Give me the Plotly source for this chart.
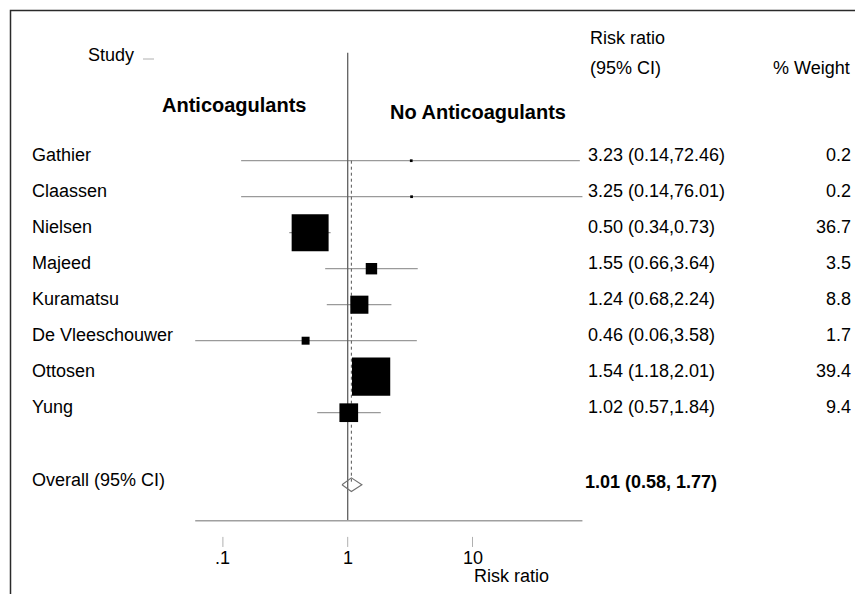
import math
import plotly.graph_objects as go

# ---------------- data ----------------
studies = ["Gathier", "Claassen", "Nielsen", "Majeed", "Kuramatsu",
           "De Vleeschouwer", "Ottosen", "Yung"]
rr = [3.23, 3.25, 0.50, 1.55, 1.24, 0.46, 1.54, 1.02]
ci_low = [0.14, 0.14, 0.34, 0.66, 0.68, 0.06, 1.18, 0.57]
ci_high = [72.46, 76.01, 0.73, 3.64, 2.24, 3.58, 2.01, 1.84]
weight = [0.2, 0.2, 36.7, 3.5, 8.8, 1.7, 39.4, 9.4]

overall_label = "Overall (95% CI)"
overall_rr = 1.01
overall_low = 0.58
overall_high = 1.77
# pooled diamond as it is drawn in the picture (low, centre, high)
diamond_drawn = [0.90, 1.07, 1.30]

tick_vals = [0.1, 1, 10]
tick_text = [".1", "1", "10"]
axis_title = "Risk ratio"
left_side_label = "Anticoagulants"
right_side_label = "No Anticoagulants"

# ---------------- layout helpers ----------------
PAGE_W, PAGE_H = 863, 594
OFF = 8                          # page body margin of the html page
W, H = PAGE_W - OFF, PAGE_H - OFF
X0PX, DECADE = 347.7, 124.8      # page pixel of RR=1, pixels per decade
Y0PX, ROWPX = 160.7, 36.0        # page pixel of first row, pixels per row
FONT = "Liberation Sans, Arial, Helvetica, sans-serif"

rows = list(range(len(studies)))
overall_row = len(studies) + 1
axis_row = overall_row + 1
top_row = -3

def px(p):   # paper x from page pixel
    return (p - OFF) / W

def py(p):   # paper y from page pixel
    return 1 - (p - OFF) / H

fig = go.Figure()

# CI lines
cx, cy = [], []
for r, lo, hi in zip(rows, ci_low, ci_high):
    cx += [lo, hi, None]
    cy += [r, r, None]
fig.add_trace(go.Scatter(x=cx, y=cy, mode="lines",
                         line=dict(color="#9a9a9a", width=1.3),
                         hoverinfo="skip", showlegend=False))

# line of no effect
fig.add_trace(go.Scatter(x=[1, 1], y=[top_row, axis_row], mode="lines",
                         line=dict(color="#606060", width=1.3),
                         hoverinfo="skip", showlegend=False))

# dashed overall line
fig.add_trace(go.Scatter(x=[diamond_drawn[1], diamond_drawn[1]],
                         y=[rows[0], overall_row], mode="lines",
                         line=dict(color="#555555", width=1, dash="3px,3px"),
                         hoverinfo="skip", showlegend=False))

# boxes
fig.add_trace(go.Scatter(x=rr, y=rows, mode="markers",
                         marker=dict(symbol="square", color="black", opacity=1,
                                     size=[6.1 * math.sqrt(w) for w in weight],
                                     line=dict(width=0)),
                         hoverinfo="skip", showlegend=False))

# diamond
dh = 0.19
fig.add_trace(go.Scatter(
    x=[diamond_drawn[0], diamond_drawn[1], diamond_drawn[2], diamond_drawn[1], diamond_drawn[0]],
    y=[overall_row, overall_row - dh, overall_row, overall_row + dh, overall_row],
    mode="lines", line=dict(color="#707070", width=1.1),
    hoverinfo="skip", showlegend=False))

# x axis line (spans the CI range)
amin, amax = min(ci_low), max(ci_high)
fig.add_trace(go.Scatter(x=[amin, amax], y=[axis_row, axis_row], mode="lines",
                         line=dict(color="#a0a0a0", width=1.4),
                         hoverinfo="skip", showlegend=False))

# tick marks
tx, ty = [], []
for v in tick_vals:
    tx += [v, v, None]
    ty += [axis_row + 0.45, axis_row + 0.73, None]
fig.add_trace(go.Scatter(x=tx, y=ty, mode="lines",
                         line=dict(color="#b0b0b0", width=1),
                         hoverinfo="skip", showlegend=False))

ann = []
def txt(text, x, y, xanchor="left", size=18, bold=False, xref="paper", yref="paper", yshift=0):
    if bold:
        text = "<b>" + text + "</b>"
    ann.append(dict(text=text, x=x, y=y, xref=xref, yref=yref, xanchor=xanchor,
                    yanchor="middle", showarrow=False, yshift=yshift,
                    font=dict(family=FONT, size=size, color="black")))

# row texts
for r, name, e, lo, hi, w in zip(rows, studies, rr, ci_low, ci_high, weight):
    txt(name, px(30), r, yref="y", yshift=5.5)
    txt(f"{e:.2f} ({lo:.2f},{hi:.2f})", px(586), r, yref="y", yshift=5.5)
    txt(f"{w:.1f}", px(853), r, xanchor="right", yref="y", yshift=5.5)

txt(overall_label, px(30), overall_row, yref="y", yshift=5)
txt(f"{overall_rr:.2f} ({overall_low:.2f}, {overall_high:.2f})", px(583),
    overall_row, yref="y", yshift=3, bold=True)

# headers
txt("Study", px(86), py(54.8))
txt("Risk ratio", px(588), py(38.5))
txt("(95% CI)", px(588), py(68))
txt("% Weight", px(852), py(68), xanchor="right")
txt(left_side_label, px(234), py(105), xanchor="center", size=20, bold=True)
txt(right_side_label, px(478), py(111.5), xanchor="center", size=20, bold=True)

# tick labels and title
for v, t in zip(tick_vals, tick_text):
    txt(t, math.log10(v), py(557.5), xanchor="center", xref="x")
txt(axis_title, px(472), py(575.5))

shapes = [
    # frame (top and left edges visible)
    dict(type="rect", xref="paper", yref="paper",
         x0=px(10.5), x1=1.02, y0=-0.02, y1=py(10.5),
         line=dict(color="#2a2a2a", width=1.5), fillcolor="rgba(0,0,0,0)"),
    # small dash after "Study"
    dict(type="line", xref="paper", yref="paper",
         x0=px(143), x1=px(154), y0=py(59), y1=py(59),
         line=dict(color="#b0b0b0", width=1)),
]

fig.update_layout(
    width=W, height=H,
    margin=dict(l=0, r=0, t=0, b=0),
    paper_bgcolor="white", plot_bgcolor="white",
    xaxis=dict(type="log",
               range=[-(X0PX - OFF) / DECADE, (PAGE_W - X0PX) / DECADE],
               visible=False, fixedrange=True),
    yaxis=dict(range=[(PAGE_H - Y0PX) / ROWPX, -(Y0PX - OFF) / ROWPX],
               visible=False, fixedrange=True),
    annotations=ann, shapes=shapes,
    showlegend=False,
)

fig.write_html("out.html")
